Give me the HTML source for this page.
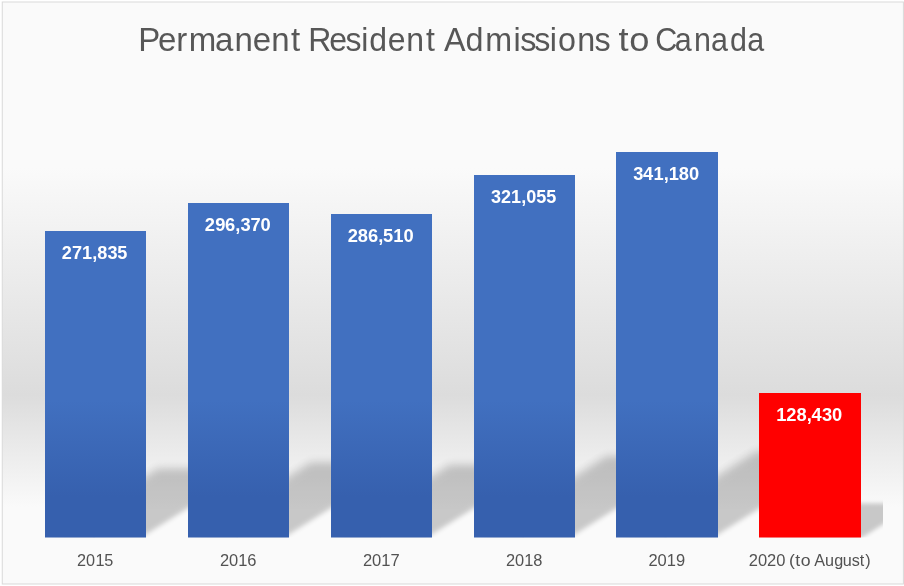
<!DOCTYPE html>
<html lang="en">
<head>
<meta charset="utf-8">
<title>Permanent Resident Admissions to Canada</title>
<style>
html,body{margin:0;padding:0;background:#ffffff;}
body{width:904px;height:586px;overflow:hidden;}
svg{display:block;}
text{font-family:"Liberation Sans",sans-serif;}
.title{font-size:33px;fill:#575757;}
.val{font-size:19px;font-weight:bold;fill:#ffffff;}
.cat{font-size:16.8px;fill:#525252;}
</style>
</head>
<body>
<svg width="904" height="586" viewBox="0 0 904 586">
<defs>
<linearGradient id="bg" x1="0" y1="0" x2="0" y2="586" gradientUnits="userSpaceOnUse">
<stop offset="0" stop-color="#fafafa"/>
<stop offset="0.2867" stop-color="#fafafa"/>
<stop offset="0.6741" stop-color="#dcdcdc"/>
<stop offset="0.8652" stop-color="#fafafa"/>
<stop offset="1" stop-color="#fafafa"/>
</linearGradient>
<linearGradient id="blue" x1="0" y1="0" x2="0" y2="586" gradientUnits="userSpaceOnUse">
<stop offset="0" stop-color="#4170c0"/>
<stop offset="0.6826" stop-color="#4170c0"/>
<stop offset="0.8481" stop-color="#3660ae"/>
<stop offset="1" stop-color="#3660ae"/>
</linearGradient>
<filter id="blurA" x="-5%" y="-20%" width="110%" height="140%"><feGaussianBlur stdDeviation="4"/></filter>
<filter id="blurB" x="-5%" y="-20%" width="110%" height="140%"><feGaussianBlur stdDeviation="2.6"/></filter>
<filter id="blurC" x="-20%" y="-40%" width="140%" height="180%"><feGaussianBlur stdDeviation="2"/></filter>
<clipPath id="plot"><rect x="3" y="3" width="880" height="534.5"/></clipPath>
</defs>
<rect x="0" y="0" width="904" height="586" fill="#ffffff"/>
<rect x="2.25" y="2" width="901.15" height="582" fill="url(#bg)" stroke="#d9d9d9" stroke-width="1"/>

<clipPath id="cl"><polygon points="13.6,550 75.1,550 227.8,454.6 166.3,454.6"/><polygon points="156.6,550 218.1,550 380.6,448.4 319.1,448.4"/><polygon points="299.6,550 361.1,550 519.8,450.8 458.3,450.8"/><polygon points="442.6,550 504.1,550 676.5,442.2 615.0,442.2"/><polygon points="584.6,550 646.6,550 827.1,437.2 765.1,437.2"/></clipPath>
<clipPath id="cr"><polygon points="73.1,550 134.6,550 287.3,454.6 225.8,454.6"/><polygon points="216.1,550 277.6,550 440.1,448.4 378.6,448.4"/><polygon points="359.1,550 420.6,550 579.3,450.8 517.8,450.8"/><polygon points="502.1,550 563.6,550 736.0,442.2 674.5,442.2"/><polygon points="644.6,550 706.6,550 887.1,437.2 825.1,437.2"/></clipPath>
<g clip-path="url(#plot)" fill="#000000" opacity="0.2">
<g clip-path="url(#cl)" filter="url(#blurA)"><polygon points="50,536 143,536 250.9,468.6 157.9,468.6"/><polygon points="193,536 286,536 403.7,462.4 310.7,462.4"/><polygon points="336,536 429,536 542.9,464.8 449.9,464.8"/><polygon points="479,536 572,536 699.6,456.2 606.6,456.2"/><polygon points="621,536 715,536 850.7,451.2 756.7,451.2"/></g>
<g clip-path="url(#cr)" filter="url(#blurB)"><polygon points="50,536 143,536 250.9,468.6 157.9,468.6"/><polygon points="193,536 286,536 403.7,462.4 310.7,462.4"/><polygon points="336,536 429,536 542.9,464.8 449.9,464.8"/><polygon points="479,536 572,536 699.6,456.2 606.6,456.2"/><polygon points="621,536 715,536 850.7,451.2 756.7,451.2"/></g>
<g filter="url(#blurC)"><polygon points="764,537.5 862,537.5 915.7,503.5 817.7,503.5"/></g>
</g>
<rect x="45" y="231" width="101" height="306.5" fill="url(#blue)"/>
<rect x="188" y="203" width="101" height="334.5" fill="url(#blue)"/>
<rect x="331" y="214" width="101" height="323.5" fill="url(#blue)"/>
<rect x="474" y="175" width="101" height="362.5" fill="url(#blue)"/>
<rect x="616" y="152" width="102" height="385.5" fill="url(#blue)"/>
<rect x="759" y="393" width="102" height="144.5" fill="#ff0000"/>
<text class="title" x="138.24 158.06 176.21 188.76 215.09 234.39 252.71 271.21 290.97" y="50.8">Permanent</text>
<text class="title" x="318.28 339.89 356.76 372.77 381.07 400.31 419.41 439.68" y="50.8" transform="scale(0.9688,1)">Resident</text>
<text class="title" x="454.06 475.93 496.07 524.95 531.89 546.29 562.19 570.63 590.09 607.88" y="50.8" transform="scale(0.9781,1)">Admissions</text>
<text class="title" x="562.26 572.00" y="50.8" transform="scale(1.1000,1)">to</text>
<text class="title" x="708.82 730.06 750.88 769.18 789.63 808.29" y="50.8" transform="scale(0.9244,1)">Canada</text>
<text class="val" x="64.85 75.63 86.04 96.79 102.11 112.98 123.16" y="259" transform="scale(0.9527,1)">271,835</text>
<text class="val" x="212.15 222.99 233.22 243.72 249.16 259.65 270.00" y="231" transform="scale(0.9650,1)">296,370</text>
<text class="val" x="360.34 370.77 381.41 391.91 396.90 407.61 418.19" y="242" transform="scale(0.9650,1)">286,510</text>
<text class="val" x="517.17 527.70 538.29 549.07 554.47 564.86 575.54" y="203" transform="scale(0.9493,1)">321,055</text>
<text class="val" x="658.73 668.88 679.58 690.25 695.48 706.04 716.64" y="180" transform="scale(0.9615,1)">341,180</text>
<text class="val" x="805.56 816.17 826.62 837.26 842.32 853.24 863.59" y="421" transform="scale(0.9635,1)">128,430</text>
<text class="cat" x="79.50 88.94 98.50 107.66" y="565.8" transform="scale(0.9684,1)">2015</text>
<text class="cat" x="224.21 233.54 242.97 252.14" y="565.8" transform="scale(0.9809,1)">2016</text>
<text class="cat" x="368.64 377.93 387.33 396.58" y="565.8" transform="scale(0.9845,1)">2017</text>
<text class="cat" x="517.74 527.09 536.57 545.74" y="565.8" transform="scale(0.9772,1)">2018</text>
<text class="cat" x="659.43 668.73 678.14 687.56" y="565.8" transform="scale(0.9833,1)">2019</text>
<text class="cat" x="761.36 770.66 779.91 789.21" y="565.8" transform="scale(0.9836,1)">2020</text>
<text class="cat" x="748.70 754.76 759.90" y="565.8" transform="scale(1.0538,1)">(to</text>
<text class="cat" x="845.46 856.64 866.32 875.25 884.39 892.88 898.53" y="565.8" transform="scale(0.9630,1)">August)</text>
</svg>
</body>
</html>
